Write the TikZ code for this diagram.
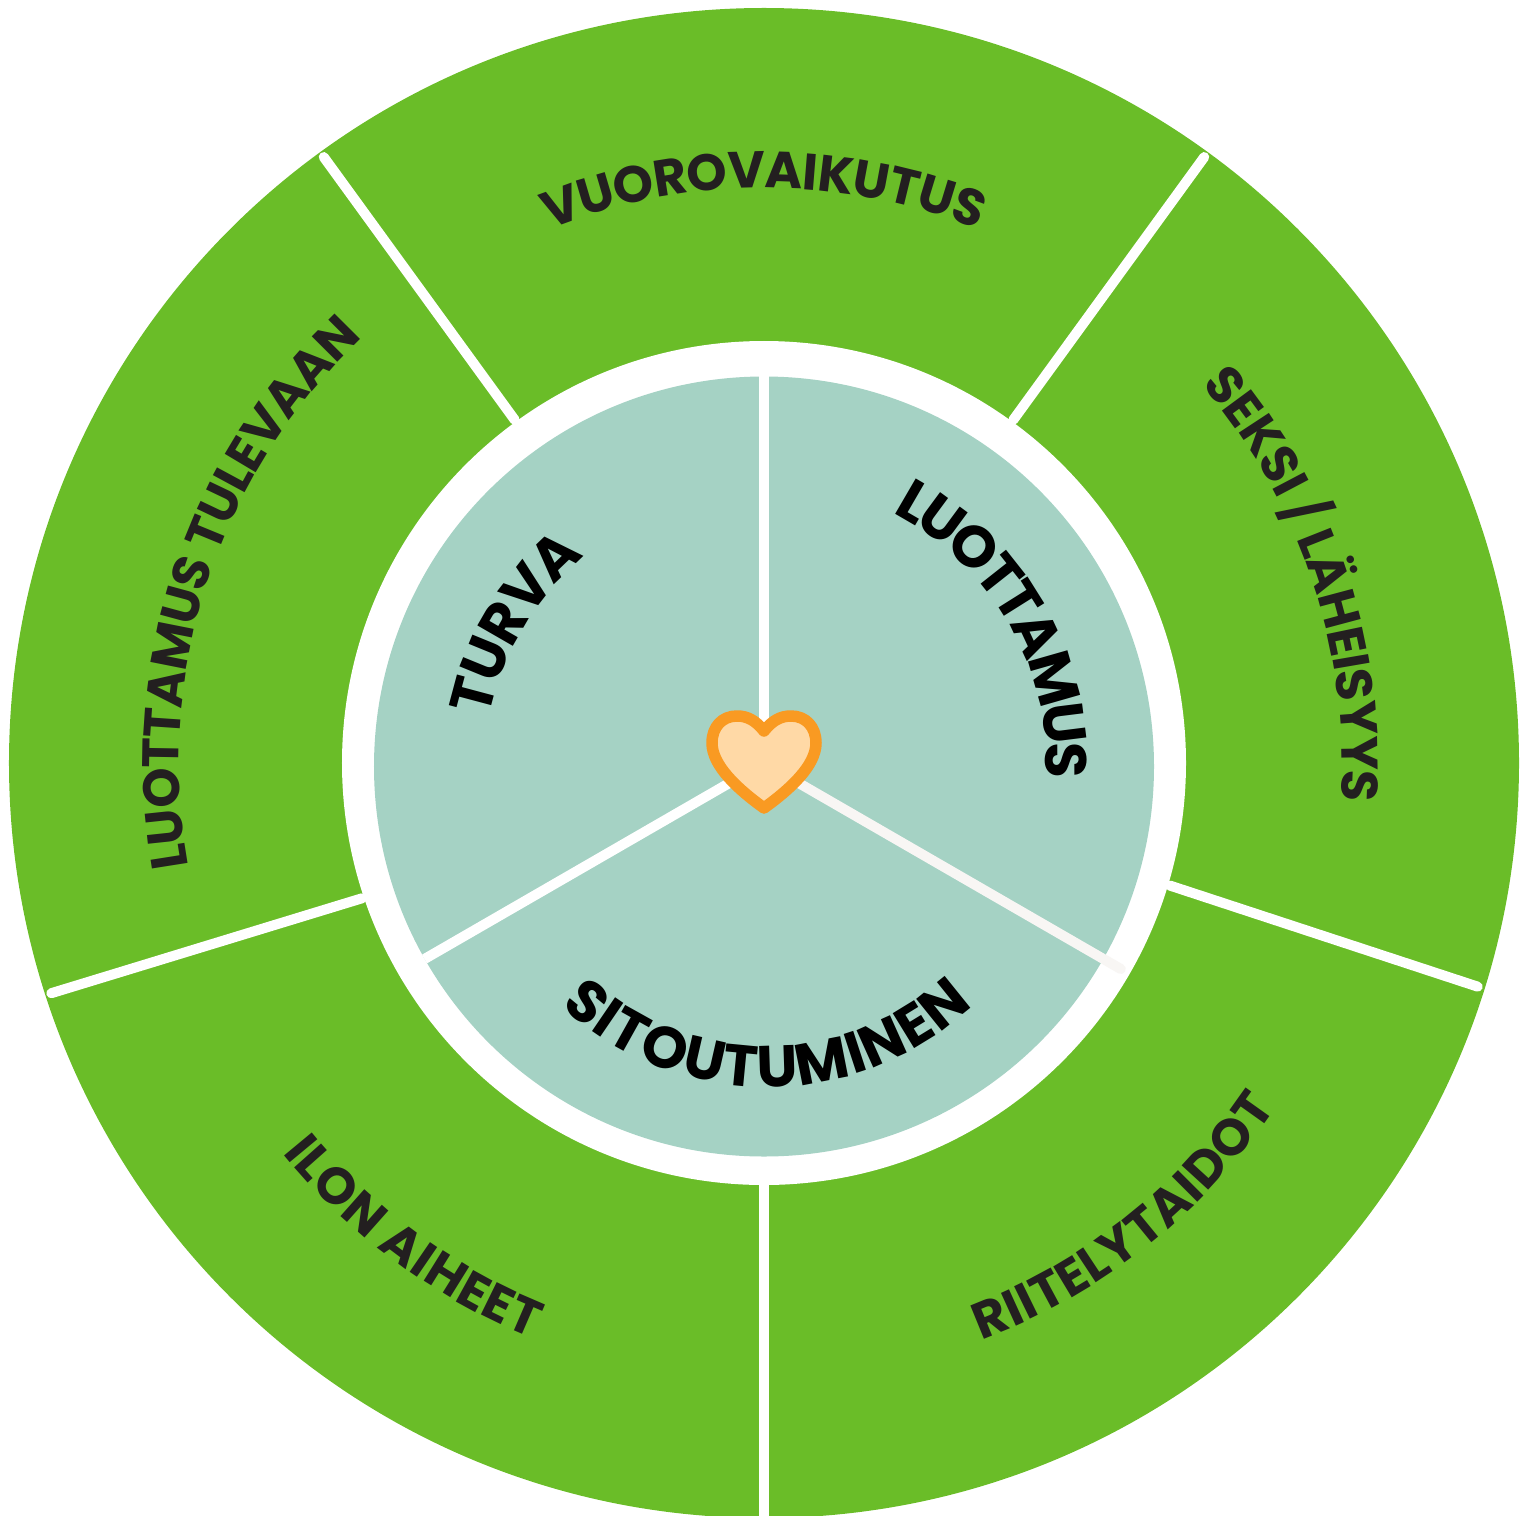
\documentclass[tikz,border=0pt]{standalone}
\usepackage{fontspec}
\setmainfont{Poppins}
\usetikzlibrary{decorations.text}
\definecolor{ringgreen}{HTML}{6ABD28}
\definecolor{discteal}{HTML}{A5D2C4}
\definecolor{heartline}{HTML}{F99A22}
\definecolor{heartfill}{HTML}{FFD9A6}
\definecolor{paleline}{HTML}{F8F6F4}
\definecolor{outerink}{HTML}{231F20}
\definecolor{innerink}{HTML}{000000}
\newcommand{\outerfont}[1]{\kern#1pt\fontsize{14.6pt}{14.6pt}\bfseries\selectfont\color{outerink}}
\newcommand{\innerfont}[1]{\kern#1pt\fontsize{16.6pt}{16.6pt}\bfseries\selectfont\color{innerink}}

\begin{document}
\begin{tikzpicture}[
    spoke/.style ={white, line width=0.10cm, line cap=round},
    innerspoke/.style ={white, line width=0.10cm},
    arclabel/.style ={decorate, decoration={text along path, text align=center, text={#1}}}]
   \clip (-7.64,-7.52) rectangle (7.64,7.63);

   \fill[ringgreen] (0,0) circle (7.55);
   \fill[white] (0,0) circle (4.22);
   \fill[discteal] (0,-0.035) circle (3.90);

   % outer ring
   \coordinate (A1) at (126:4.24);
   \coordinate (A2) at (126:7.49);
   \coordinate (B1) at (54:4.24);
   \coordinate (B2) at (54:7.49);
   \coordinate (C1) at (-16.8:4.24);
   \coordinate (C2) at (-17.4:7.48);
   \coordinate (D1) at (198.6:4.24);
   \coordinate (D2) at (197.9:7.49);
   \coordinate (E1) at (-90:4.22);
   \coordinate (E2) at (-90:7.70);

   \draw[spoke] (A1) to (A2);
   \draw[spoke] (B1) to (B2);
   \draw[spoke] (C1) to (C2);
   \draw[spoke] (D1) to (D2);
   \draw[spoke,line cap=butt] (E1) to (E2);

   % inner disc
   \coordinate (O) at (0,0);
   \coordinate (F) at (90:3.90);
   \coordinate (G) at (210:3.92);
   \coordinate (H) at (-30:4.12);

   \draw[innerspoke] (O) to (F);
   \draw[innerspoke] (O) to (G);
   \draw[innerspoke,paleline,line cap=round] (O) to (H);

   % heart
   \draw[heartline, fill=heartfill, line width=0.115cm, line join=round]
      (0,0.32) .. controls (0.08,0.42) and (0.16,0.47) .. (0.27,0.47)
      .. controls (0.42,0.47) and (0.52,0.36) .. (0.52,0.20)
      .. controls (0.52,-0.03) and (0.25,-0.27) .. (0,-0.45)
      .. controls (-0.25,-0.27) and (-0.52,-0.03) .. (-0.52,0.20)
      .. controls (-0.52,0.36) and (-0.42,0.47) .. (-0.27,0.47)
      .. controls (-0.16,0.47) and (-0.08,0.42) .. (0,0.32) -- cycle;

   % outer labels
   \path[arclabel={|\outerfont{-0.22}|VUOROVAIKUTUS}]
      (125:5.75) arc[start angle=125, end angle=55, radius=5.75];
   \path[arclabel={|\outerfont{-0.20}|SEKSI / LÄHEISYYS}]
      (53.5:5.78) arc[start angle=53.5, end angle=-16.5, radius=5.78];
   \path[arclabel={|\outerfont{-0.25}|LUOTTAMUS TULEVAAN}]
      (197.7:5.85) arc[start angle=197.7, end angle=125.7, radius=5.85];
   \path[arclabel={|\outerfont{0.20}|RIITELYTAIDOT}]
      (-87.7:6.17) arc[start angle=-87.7, end angle=-15.7, radius=6.17];
   \path[arclabel={|\outerfont{0.25}|ILON AIHEET}]
      (198:6.20) arc[start angle=198, end angle=269, radius=6.20];

   % inner labels
   \path[arclabel={|\innerfont{-0.55}|TURVA}]
      ([shift={(0,-0.09)}]209:2.80) arc[start angle=209, end angle=89, radius=2.80];
   \path[arclabel={|\innerfont{-1.20}|LUOTTAMUS}]
      ([shift={(0.02,0)}]89.6:2.80) arc[start angle=89.6, end angle=-30.4, radius=2.80];
   \path[arclabel={|\innerfont{0.35}|SITOUTUMINEN}]
      ([shift={(0.03,-0.22)}]210:3.02) arc[start angle=210, end angle=330, radius=3.02];
\end{tikzpicture}
\end{document}
